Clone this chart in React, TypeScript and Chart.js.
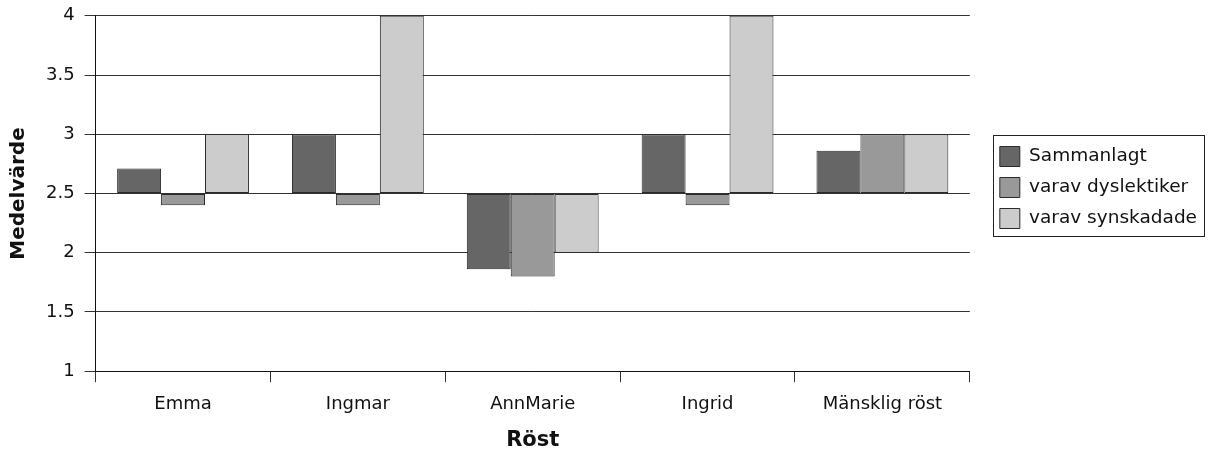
import React, { useEffect, useRef } from 'react';
import { Chart, registerables } from 'chart.js';

Chart.register(...registerables);

const categories = ['Emma', 'Ingmar', 'AnnMarie', 'Ingrid', 'Mänsklig röst'];
const seriesLabels = ['Sammanlagt', 'varav dyslektiker', 'varav synskadade'];
const sammanlagt = [2.71, 3.0, 1.86, 3.0, 2.86];
const dyslektiker = [2.4, 2.4, 1.8, 2.4, 3.0];
const synskadade = [3.0, 4.0, 2.0, 4.0, 3.0];
const seriesColors = ['#666666', '#999999', '#cccccc'];
const yMin = 1;
const yMax = 4;
const yStep = 0.5;
const baseValue = 2.5;

const FONT = 'DejaVu Sans';
const LEGEND_GAP = 19;

const legendPlacement = {
  id: 'legendPlacement',
  beforeLayout(chart: any) {
    const lg = chart.legend;
    if (lg && !lg.__patched) {
      const f = lg.fit;
      lg.fit = function () {
        f.call(this);
        this.width += LEGEND_GAP;
      };
      lg.__patched = true;
    }
  },
  afterLayout(chart: any) {
    const lg = chart.legend;
    if (!lg) return;
    lg.left += LEGEND_GAP;
    lg.right += LEGEND_GAP;
    lg.top -= 35;
    lg.bottom -= 35;
  },
};

const legendBorder = {
  id: 'legendBorder',
  afterDraw(chart: any) {
    const lg = chart.legend;
    if (!lg || !lg.legendHitBoxes || !lg.legendHitBoxes.length) return;
    const boxes = lg.legendHitBoxes;
    let l = Infinity, r = -Infinity, t = Infinity, b = -Infinity;
    for (const h of boxes) {
      l = Math.min(l, h.left);
      r = Math.max(r, h.left + h.width);
      t = Math.min(t, h.top);
      b = Math.max(b, h.top + h.height);
    }
    const ctx = chart.ctx;
    ctx.save();
    ctx.strokeStyle = '#222';
    ctx.lineWidth = 1;
    ctx.strokeRect(Math.round(l - 7) + 0.5, Math.round(t - 12) + 0.5, Math.round(r - l + 14), Math.round(b - t + 19));
    ctx.restore();
  },
};

export default function App() {
  const ref = useRef<HTMLCanvasElement | null>(null);
  useEffect(() => {
    if (!ref.current) return;
    const data = [sammanlagt, dyslektiker, synskadade];
    const chart = new Chart(ref.current, {
      type: 'bar',
      data: {
        labels: categories,
        datasets: seriesLabels.map((label, i) => ({
          label,
          data: data[i],
          base: baseValue,
          backgroundColor: seriesColors[i],
          borderColor: '#2a2a2a',
          borderWidth: 1,
          borderSkipped: false,
          categoryPercentage: 0.754,
          barPercentage: 1,
        })),
      },
      options: {
        animation: false,
        responsive: true,
        maintainAspectRatio: false,
        layout: { padding: { top: -3, right: 4, left: 5, bottom: 0 } },
        plugins: {
          tooltip: { enabled: false },
          legend: {
            position: 'right',
            align: 'center',
            labels: {
              color: '#111',
              font: { family: FONT, size: 18.5 },
              boxWidth: 20,
              boxHeight: 20,
              padding: 11,
            },
          },
        },
        scales: {
          x: {
            offset: true,
            grid: {
              offset: true,
              drawOnChartArea: false,
              drawTicks: true,
              tickLength: 11,
              color: '#333',
            },
            border: { color: '#111', width: 1 },
            ticks: { color: '#111', font: { family: FONT, size: 18 }, padding: 11, maxRotation: 0 },
            title: {
              display: true,
              text: 'Röst',
              color: '#111',
              font: { family: FONT, size: 21, weight: 'bold' },
              padding: { top: 2, bottom: 0 },
            },
          },
          y: {
            min: yMin,
            max: yMax,
            ticks: {
              stepSize: yStep,
              color: '#111',
              font: { family: FONT, size: 18 },
              padding: 10,
              callback: (v: any) => String(+v),
            },
            grid: {
              color: '#333',
              tickLength: 11,
            },
            border: { color: '#111', width: 1 },
            title: {
              display: true,
              text: 'Medelvärde',
              color: '#111',
              font: { family: FONT, size: 20, weight: 'bold' },
              padding: { top: 2, bottom: 5 },
            },
          },
        },
      },
      plugins: [legendPlacement, legendBorder],
    } as any);
    return () => chart.destroy();
  }, []);
  return (
    <div style={{ position: 'fixed', left: 0, top: -5, width: 1211, height: 458, background: '#fff' }}>
      <canvas ref={ref} />
    </div>
  );
}
